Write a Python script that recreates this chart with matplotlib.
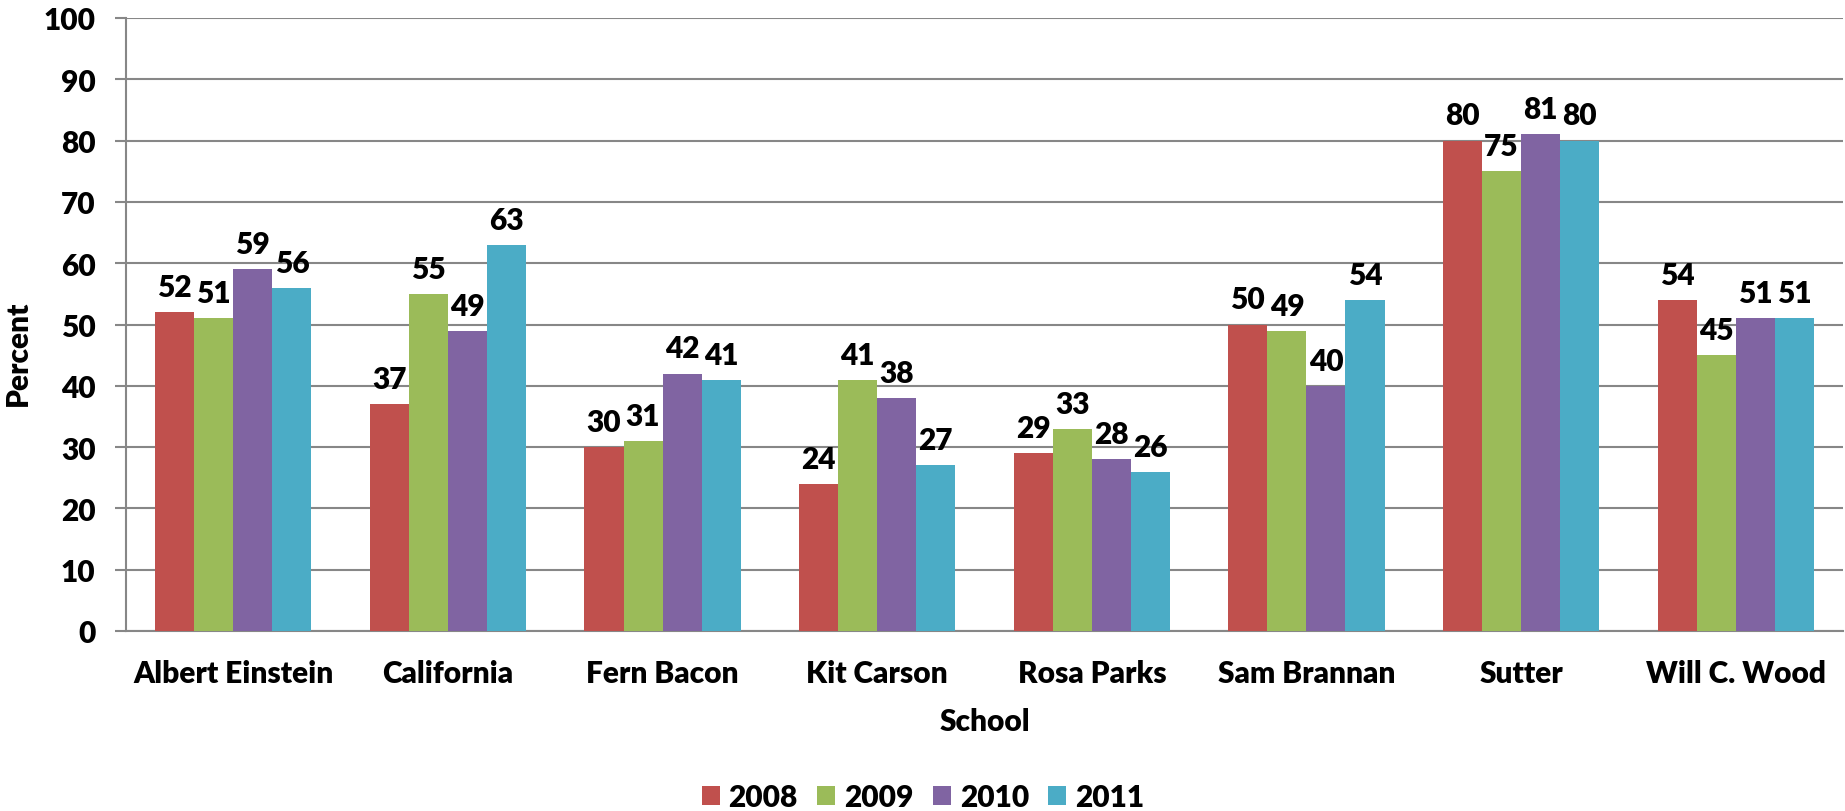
import matplotlib
matplotlib.use("Agg")
from matplotlib import pyplot as plt
import numpy as np

plt.rcParams['font.family'] = ['Lato', 'DejaVu Sans']
plt.rcParams['font.weight'] = 'heavy'

schools = ["Albert Einstein", "California", "Fern Bacon", "Kit Carson",
           "Rosa Parks", "Sam Brannan", "Sutter", "Will C. Wood"]
years = ["2008", "2009", "2010", "2011"]
v2008 = [52, 37, 30, 24, 29, 50, 80, 54]
v2009 = [51, 55, 31, 41, 33, 49, 75, 45]
v2010 = [59, 49, 42, 38, 28, 40, 81, 51]
v2011 = [56, 63, 41, 27, 26, 54, 80, 51]
colors = ["#C0504D", "#9BBB59", "#8064A2", "#4BACC6"]

fs = 21.5
fw = "heavy"

fig = plt.figure(figsize=(18.45, 8.12), dpi=100)
ax = fig.add_axes([126 / 1845, 180 / 812, 1717 / 1845, 613 / 812])

x = np.arange(len(schools))
w = 0.182
for i, (vals, col, yr) in enumerate(zip([v2008, v2009, v2010, v2011], colors, years)):
    pos = x + (i - 1.5) * w
    ax.bar(pos, vals, width=w, color=col, label=yr, zorder=3)
    for p, v in zip(pos, vals):
        ax.annotate(str(v), (p, v), xytext=(0, 8), textcoords="offset points",
                    ha="center", va="bottom", fontsize=fs, fontweight=fw)

ax.set_xlim(-0.5, len(schools) - 0.5)
ax.set_ylim(0, 100)
ax.set_yticks(range(0, 101, 10))
ax.set_xticks(x)
ax.set_xticklabels(schools, fontweight=fw)
ax.set_yticklabels([str(t) for t in range(0, 101, 10)], fontweight=fw)
ax.tick_params(axis="x", length=0, pad=20, labelsize=fs)
ax.tick_params(axis="y", length=8, width=1.5, color="#878787", pad=14, labelsize=fs)
ax.grid(axis="y", color="#878787", linewidth=1.5, zorder=0)
for s in ["top", "right"]:
    ax.spines[s].set_visible(False)
for s in ["left", "bottom"]:
    ax.spines[s].set_color("#878787")
    ax.spines[s].set_linewidth(1.5)

fig.text(985 / 1845, 1 - 722 / 812, "School", ha="center", va="center",
         fontsize=fs, fontweight=fw)
fig.text(18 / 1845, 1 - 353 / 812, "Percent", ha="center", va="center",
         rotation=90, fontsize=fs, fontweight=fw)

fig.legend(loc="center", bbox_to_anchor=(923 / 1845, 1 - 798 / 812), ncol=4,
           frameon=False, prop={"size": fs, "weight": fw}, handlelength=0.6,
           handleheight=0.6, handletextpad=0.3, columnspacing=0.65)

plt.savefig("out.png", dpi=100)
